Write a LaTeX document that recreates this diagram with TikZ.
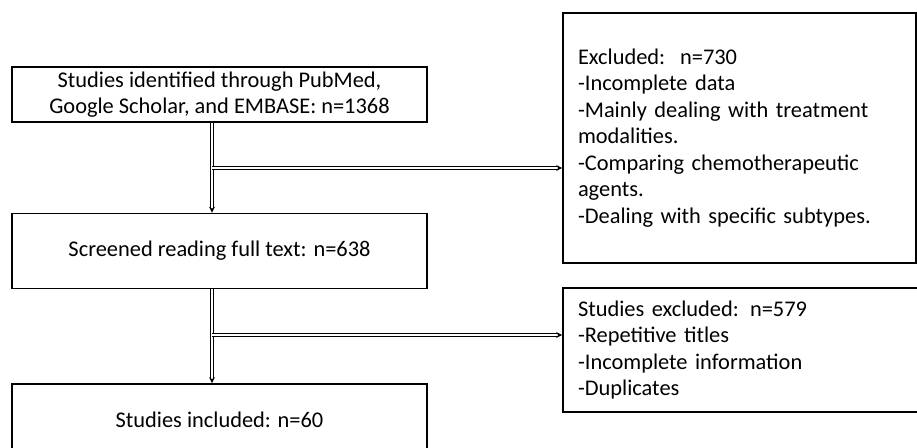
\documentclass[tikz,border=0pt]{standalone}
\usepackage{fontspec}
\setmainfont{Carlito}
\usetikzlibrary{arrows.meta}

\begin{document}
\begin{tikzpicture}[x=1pt, y=-1pt,
    box/.style={draw, line width=1.6pt, rectangle, inner sep=0pt, font=\fontsize{22.4}{26.5}\selectfont},
    dline/.style={double, line width=0.9pt, double distance=1.6pt, -{Stealth[length=6pt, width=6pt]}}]
  % fix the page size
  \useasboundingbox (0,0) rectangle (917,447);
  \clip (0,0) rectangle (917,447);
  % draw the boxes of the main column
  \node[box, minimum width=415pt, minimum height=55pt, align=center] (ident) at (219.5,94.5) {Studies identified through PubMed,\\Google Scholar, and EMBASE: n=1368};
  \node[box, minimum width=415pt, minimum height=75pt] (screen) at (219.5,251) {Screened reading full text: n=638};
  \node[box, minimum width=415pt, minimum height=72pt] (incl) at (219.5,420) {Studies included: n=60};
  % draw the boxes of excluded studies
  \node[box, minimum width=353pt, minimum height=250pt, text width=323pt, align=left] (excl1) at (739.5,138) {Excluded:\ \ n=730\\-Incomplete data\\-Mainly dealing with treatment\\modalities.\\-Comparing chemotherapeutic\\agents.\\-Dealing with specific subtypes.};
  \node[box, minimum width=367pt, minimum height=124pt, text width=337pt, align=left] (excl2) at (746.5,350) {Studies excluded: n=579\\-Repetitive titles\\-Incomplete information\\-Duplicates};
  % draw double arrows
  \coordinate (vx) at (212,0);
  \coordinate (br1) at (212,168);
  \coordinate (br2) at (212,335);
  \draw[dline] (ident.south -| vx) -- (screen.north -| vx);
  \draw[dline] (screen.south -| vx) -- (incl.north -| vx);
  \draw[dline] (br1) -- (br1 -| excl1.west);
  \draw[dline] (br2) -- (br2 -| excl2.west);
\end{tikzpicture}
\end{document}
